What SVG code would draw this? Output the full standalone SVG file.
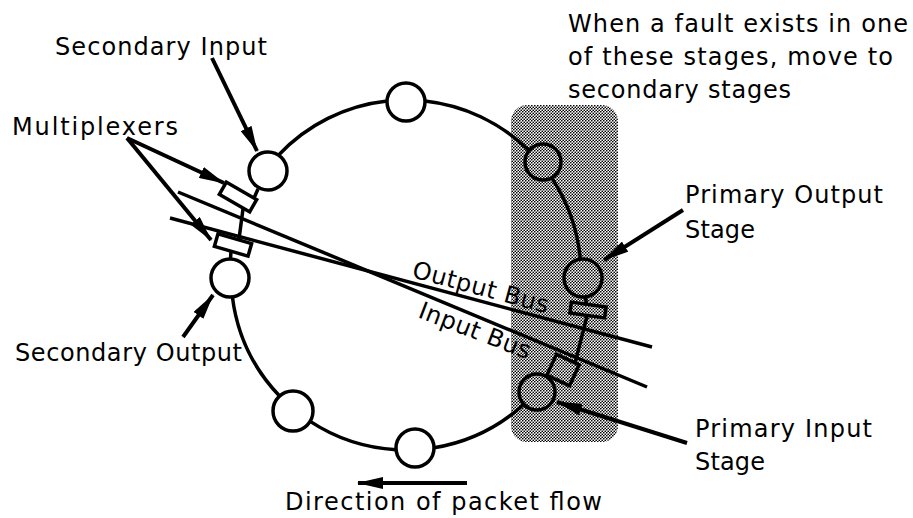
<svg xmlns="http://www.w3.org/2000/svg" width="913" height="518" viewBox="0 0 913 518">
<defs>
<pattern id="dots" patternUnits="userSpaceOnUse" width="3" height="3">
<rect width="3" height="3" fill="#fff"/>
<circle cx="0.75" cy="0.75" r="0.85" fill="#000"/>
<circle cx="2.25" cy="2.25" r="0.85" fill="#000"/>
</pattern>
<marker id="ah" viewBox="0 0 26 12" refX="25" refY="6" markerWidth="26" markerHeight="12" markerUnits="userSpaceOnUse" orient="auto">
<path d="M0,0 L26,6 L0,12 z" fill="#000"/>
</marker>
</defs>
<style>
.ln{fill:none;stroke:#000;stroke-width:3.5}
.st{stroke:#000;stroke-width:3.5;fill:#fff}
.sh{stroke:#000;stroke-width:3.5;fill:url(#dots)}
.mx{stroke:#000;stroke-width:3.5;fill:none}
.ar{fill:none;stroke:#000;stroke-width:4;marker-end:url(#ah)}
text{font-family:"DejaVu Sans",sans-serif;font-size:24px;fill:#000}
</style>
<rect width="913" height="518" fill="#fff"/>
<g id="fault-region">
<rect x="511" y="105" width="107" height="337" rx="16" fill="url(#dots)"/>
</g>
<g id="connectors">
<path class="ln" d="M278.4,155.2 A175,175 0 0 1 387.1,101"/>
<path class="ln" d="M424.9,101 A175,175 0 0 1 528.2,149.8"/>
<path class="ln" d="M552.3,178.9 A175,175 0 0 1 580.3,259.1"/>
<path class="ln" d="M523.1,405 A175,175 0 0 1 434,447.8"/>
<path class="ln" d="M396.2,449.7 A175,175 0 0 1 309.4,420.9"/>
<path class="ln" d="M280.3,396.8 A175,175 0 0 1 232.4,296.9"/>
<path class="ln" d="M258,189 L254,198 M243,209 L239,239 M231,251 L230.5,259"/>
<path class="ln" d="M585,297 L587,305 M587,316 L575,363"/>
<path class="ln" d="M178,192 L647,387"/>
<path class="ln" d="M170,218 L652,347"/>
<path class="ar" d="M212,58 L257,151"/>
<path class="ar" d="M127,138 L224,183"/>
<path class="ar" d="M127,138 L211,240"/>
<path class="ar" d="M683,210 L604,260"/>
<path class="ar" d="M687,443 L557,402"/>
<path class="ar" d="M183,337 L213,295"/>
<path class="ar" d="M467,483 L358,483"/>
</g>
<g id="stages">
<circle id="secondary-input" class="st" cx="268" cy="171" r="19"/>
<circle id="stage-top" class="st" cx="406" cy="102" r="19"/>
<circle id="stage-upper-right" class="sh" cx="543" cy="162" r="18"/>
<circle id="primary-output" class="sh" cx="583" cy="278" r="19"/>
<circle id="primary-input" class="sh" cx="537" cy="392" r="18"/>
<circle id="stage-bottom" class="st" cx="415" cy="448" r="19"/>
<circle id="stage-bottom-left" class="st" cx="293" cy="411" r="20"/>
<circle id="secondary-output" class="st" cx="230" cy="278" r="19"/>
</g>
<g id="multiplexers">
<rect id="mux-left-upper" class="mx" x="-17.5" y="-7" width="35" height="14" transform="translate(238,197) rotate(30)"/>
<rect id="mux-left-lower" class="mx" x="-17.5" y="-6.5" width="35" height="13" transform="translate(233,245) rotate(16)"/>
<rect id="mux-right-upper" class="mx" x="-17.5" y="-5.5" width="35" height="11" transform="translate(588,310) rotate(8)"/>
<rect id="mux-right-lower" class="mx" x="-12.5" y="-11.5" width="25" height="23" transform="translate(563,370) rotate(25)"/>
</g>
<g id="labels">
<text x="55" y="55" textLength="212" lengthAdjust="spacing">Secondary Input</text>
<text x="12" y="135" textLength="166" lengthAdjust="spacing">Multiplexers</text>
<text x="15" y="361" textLength="227" lengthAdjust="spacing">Secondary Output</text>
<text x="285" y="510" textLength="317" lengthAdjust="spacing">Direction of packet flow</text>
<text x="568" y="32" textLength="340" lengthAdjust="spacing">When a fault exists in one</text>
<text x="568" y="65" textLength="325" lengthAdjust="spacing">of these stages, move to</text>
<text x="568" y="98" textLength="223" lengthAdjust="spacing">secondary stages</text>
<text x="685" y="203" textLength="198" lengthAdjust="spacing">Primary Output</text>
<text x="685" y="238" textLength="70" lengthAdjust="spacing">Stage</text>
<text x="695" y="437" textLength="177" lengthAdjust="spacing">Primary Input</text>
<text x="695" y="470" textLength="70" lengthAdjust="spacing">Stage</text>
<text x="411" y="277" textLength="140" lengthAdjust="spacing" transform="rotate(15 411 277)">Output Bus</text>
<text x="417" y="317" textLength="118" lengthAdjust="spacing" transform="rotate(21 417 317)">Input Bus</text>
</g>
</svg>
